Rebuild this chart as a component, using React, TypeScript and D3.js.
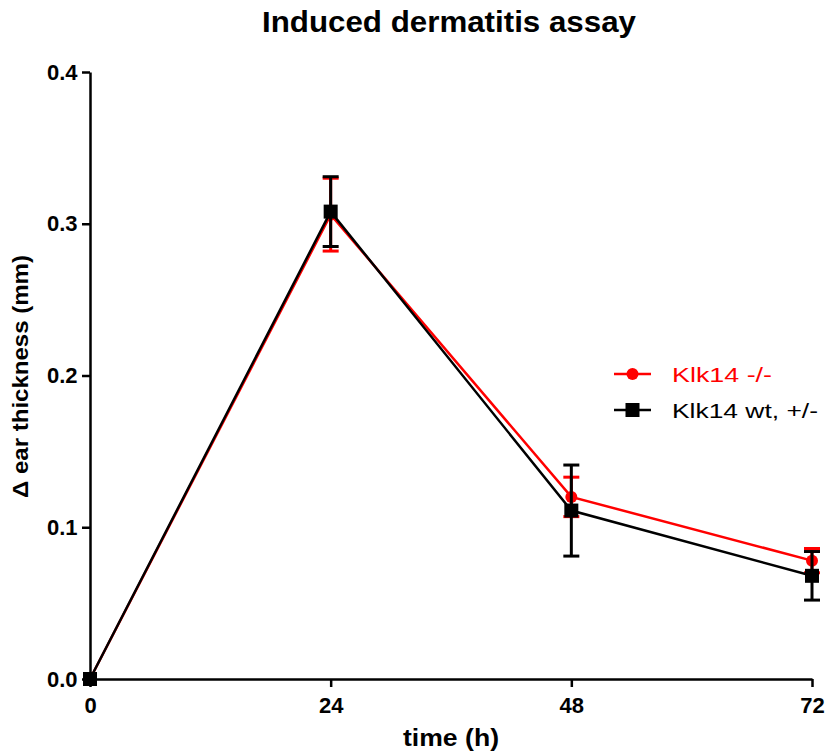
import { useEffect, useRef } from "react";
import * as d3 from "d3";

const TIMES = [0, 24, 48, 72];
const KO_MEAN = [0, 0.306, 0.12, 0.078];
const KO_ERR = [0, 0.024, 0.013, 0.008];
const WT_MEAN = [0, 0.308, 0.111, 0.068];
const WT_ERR = [0, 0.023, 0.03, 0.016];
const Y_TICKS = [0, 0.1, 0.2, 0.3, 0.4];
const SERIES_NAMES = ["Klk14 -/-", "Klk14 wt, +/-"];

const FONT = "'Liberation Sans', Arial, sans-serif";

export default function App() {
  const ref = useRef<SVGSVGElement>(null);

  useEffect(() => {
    const el = ref.current;
    if (!el) return;
    const svg = d3.select(el);
    svg.selectAll("*").remove();

    const x = d3.scaleLinear().domain([0, 72]).range([90, 812]);
    const y = d3.scaleLinear().domain([0, 0.4]).range([679, 72]);

    // title (the source renders text wider than Liberation, so stretch it)
    svg.append("text")
      .attr("x", 262)
      .attr("y", 32)
      .attr("font-family", FONT)
      .attr("font-weight", 700)
      .attr("font-size", 30)
      .attr("textLength", 374)
      .attr("lengthAdjust", "spacingAndGlyphs")
      .text("Induced dermatitis assay");

    // y axis
    const yAxis = d3.axisLeft(y)
      .tickValues(Y_TICKS)
      .tickFormat(d3.format(".1f"))
      .tickSize(8)
      .tickSizeOuter(0);
    svg.append("g")
      .attr("transform", `translate(${x(0)},0)`)
      .call(yAxis)
      .call((g) => g.select(".domain").attr("stroke", "#000").attr("stroke-width", 2.5))
      .call((g) => g.selectAll(".tick line").attr("stroke", "#000").attr("stroke-width", 2.5))
      .call((g) =>
        g.selectAll(".tick text")
          .attr("x", -12.5)
          .attr("fill", "#000")
          .attr("font-family", FONT)
          .attr("font-weight", 700)
          .attr("font-size", 22)
      );

    // x axis
    const xAxis = d3.axisBottom(x)
      .tickValues(TIMES)
      .tickFormat(d3.format("d"))
      .tickSize(8)
      .tickSizeOuter(0);
    svg.append("g")
      .attr("transform", `translate(0,${y(0)})`)
      .call(xAxis)
      .call((g) => g.select(".domain").attr("stroke", "#000").attr("stroke-width", 2.5))
      .call((g) => g.selectAll(".tick line").attr("stroke", "#000").attr("stroke-width", 2.5))
      .call((g) =>
        g.selectAll(".tick text")
          .attr("y", 34)
          .attr("dy", 0)
          .attr("fill", "#000")
          .attr("font-family", FONT)
          .attr("font-weight", 700)
          .attr("font-size", 22)
      );

    // axis titles
    svg.append("text")
      .attr("x", 403)
      .attr("y", 746)
      .attr("font-family", FONT)
      .attr("font-weight", 700)
      .attr("font-size", 23)
      .attr("textLength", 96)
      .attr("lengthAdjust", "spacingAndGlyphs")
      .text("time (h)");

    svg.append("text")
      .attr("transform", `translate(28,498) rotate(-90)`)
      .attr("font-family", FONT)
      .attr("font-weight", 700)
      .attr("font-size", 22)
      .attr("textLength", 243)
      .attr("lengthAdjust", "spacingAndGlyphs")
      .text("\u0394 ear thickness (mm)");

    const series = [
      { name: SERIES_NAMES[0], mean: KO_MEAN, err: KO_ERR, color: "#ff0000", shape: "circle", w: 100 },
      { name: SERIES_NAMES[1], mean: WT_MEAN, err: WT_ERR, color: "#000000", shape: "square", w: 146 },
    ];

    const line = d3.line<number>()
      .x((_, i) => x(TIMES[i]))
      .y((d) => y(d));

    const capW = 8;
    series.forEach((s) => {
      const g = svg.append("g");
      // error bars
      s.mean.forEach((m, i) => {
        if (!s.err[i]) return;
        const cx = x(TIMES[i]);
        const top = y(m + s.err[i]);
        const bot = y(m - s.err[i]);
        g.append("line")
          .attr("x1", cx).attr("x2", cx).attr("y1", top).attr("y2", bot)
          .attr("stroke", s.color).attr("stroke-width", 3);
        [top, bot].forEach((yy) =>
          g.append("line")
            .attr("x1", cx - capW).attr("x2", cx + capW).attr("y1", yy).attr("y2", yy)
            .attr("stroke", s.color).attr("stroke-width", 3)
        );
      });
      g.append("path")
        .attr("d", line(s.mean))
        .attr("fill", "none")
        .attr("stroke", s.color)
        .attr("stroke-width", 2.5);
      s.mean.forEach((m, i) => {
        const cx = x(TIMES[i]);
        const cy = y(m);
        if (s.shape === "circle") {
          g.append("circle").attr("cx", cx).attr("cy", cy).attr("r", 6).attr("fill", s.color);
        } else {
          g.append("rect").attr("x", cx - 7).attr("y", cy - 7).attr("width", 14).attr("height", 14).attr("fill", s.color);
        }
      });
    });

    // legend
    series.forEach((s, i) => {
      const ly = 374 + i * 36;
      const g = svg.append("g");
      g.append("line")
        .attr("x1", 614).attr("x2", 651).attr("y1", ly).attr("y2", ly)
        .attr("stroke", s.color).attr("stroke-width", 2.5);
      if (s.shape === "circle") {
        g.append("circle").attr("cx", 632.5).attr("cy", ly).attr("r", 6).attr("fill", s.color);
      } else {
        g.append("rect").attr("x", 625.5).attr("y", ly - 7).attr("width", 14).attr("height", 14).attr("fill", s.color);
      }
      g.append("text")
        .attr("x", 672)
        .attr("y", ly)
        .attr("dy", "0.36em")
        .attr("fill", s.color)
        .attr("font-family", FONT)
        .attr("font-size", 21)
        .attr("textLength", s.w)
        .attr("lengthAdjust", "spacingAndGlyphs")
        .text(s.name);
    });
  }, []);

  return (
    <svg
      ref={ref}
      width={826}
      height={755}
      style={{ position: "absolute", left: 0, top: 0, background: "#fff" }}
    />
  );
}
